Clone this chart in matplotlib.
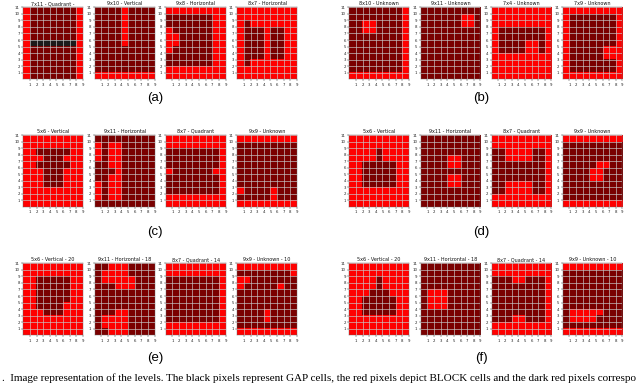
import matplotlib
matplotlib.use('Agg')
import matplotlib.pyplot as plt
import numpy as np
from matplotlib.colors import ListedColormap

# ---- data: level grids (top row first). B = GAP (black), R = BLOCK (red), D = dark red
x_ticks = [1, 2, 3, 4, 5, 6, 7, 8, 9]
y_ticks = [1, 2, 3, 4, 5, 6, 7, 8, 9, 10, 11]

titles_a = ["7x11 - Quadrant -", "9x10 - Vertical", "9x8 - Horizontal", "8x7 - Horizontal"]
titles_b = ["8x10 - Unknown", "9x11 - Unknown", "7x4 - Unknown", "7x9 - Unknown"]
titles_c = ["5x6 - Vertical", "9x11 - Horizontal", "8x7 - Quadrant", "9x9 - Unknown"]
titles_d = ["5x6 - Vertical", "9x11 - Horizontal", "8x7 - Quadrant", "9x9 - Unknown"]
titles_e = ["5x6 - Vertical - 20", "9x11 - Horizontal - 18", "8x7 - Quadrant - 14", "9x9 - Unknown - 10"]
titles_f = ["5x6 - Vertical - 20", "9x11 - Horizontal - 18", "8x7 - Quadrant - 14", "9x9 - Unknown - 10"]
panel_labels = ["(a)", "(b)", "(c)", "(d)", "(e)", "(f)"]

grid_a1 = ["RDDDDDDDR", "RDDDDDDDR", "RDDDDDDDR", "RDDDDDDDR", "RDDDDDDDR", "RBBBBBBBR",
           "RDDDDDDDR", "RDDDDDDDR", "RDDDDDDDR", "RDDDDDDDR", "RDDDDDDDR"]
grid_a2 = ["DDDDRDDDD", "DDDDRDDDD", "DDDDRDDDD", "DDDDRDDDD", "DDDDRDDDD", "DDDDRDDDD",
           "DDDDDDDDD", "DDDDDDDDD", "DDDDDDDDD", "DDDDDDDDD", "RRRRRRRRR"]
grid_a3 = ["RRRRRRRRR", "DDDDDDDRR", "DDDDDDDRR", "RDDDDDDRR", "RRDDDDDRR", "RRDDDDDRR",
           "RDDDDDDRR", "DDDDDDDRR", "DDDDDDDRR", "RRRRRRRRR", "RRRRRRRRR"]
grid_a4 = ["RRRRRRRRR", "RRRRRRRRR", "RDRRRRRRR", "RDDDRDDRR", "RDDDRDDRR", "RDDDRDDRR",
           "RDDDRDDRR", "RDDDRDDRR", "RDRRRRRRR", "RRRRRRRRR", "RRRRRRRRR"]

grid_b1 = ["DDDDDDDDR", "DDDDDDDDR", "DDRRDDDDR", "DDRRDDDDR", "DDDDDDDDR", "DDDDDDDDR",
           "DDDDDDDDR", "DDDDDDDDR", "DDDDDDDDR", "DDDDDDDDR", "RRRRRRRRR"]
grid_b2 = ["DDDDDDDDD", "DDDDDDRRD", "DDDDDDRRD", "DDDDDDDDD", "DDDDDDDDD", "DDDDDDDDD",
           "DDDDDDDDD", "DDDDDDDDD", "DDDDDDDDD", "DDDDDDDDD", "DDDDDDDDD"]
grid_b3 = ["RRRRRRRRR", "RRRRRRRRR", "RRRRRRRRR", "RDDDDDDDR", "RDDDDDDDR", "RDDDDRRDR",
           "RDDDDRRDR", "RRRRRRRRR", "RRRRRRRRR", "RRRRRRRRR", "RRRRRRRRR"]
grid_b4 = ["RRRRRRRRR", "RDDDDDDDR", "RDDDDDDDR", "RDDDDDDDR", "RDDDDDDDR", "RDDDDDDDR",
           "RDDDDDRRR", "RDDDDDRRR", "RDDDDDDDR", "RDDDDDDDR", "RRRRRRRRR"]

grid_c1 = ["RRRRRRRRR", "RRRRRRRRR", "RRDDDDDRR", "RRRDDDRRR", "RRDDDDDRR", "RRRDDDRRR",
           "RRRDDDRRR", "RRRDDDRRR", "RRRRRRRRR", "RRRRRRRRR", "RRRRRRRRR"]
grid_c2 = ["DDDDDDDDD", "RDRRDDDDD", "RDRRDDDDD", "RDRRDDDDD", "DDRRDDDDD", "DDDRDDDDD",
           "DDRRDDDDD", "RDRRDDDDD", "RDRRDDDDD", "RDRRDDDDD", "DDDDDDDDD"]
grid_c3 = ["RRRRRRRRR", "RRRRRRRRR", "DDDDDDDDR", "DDDDDDDDR", "DDDDDDDDR", "RDDDDDDRR",
           "DDDDDDDDR", "DDDDDDDDR", "DDDDDDDDR", "RRRRRRRRR", "RRRRRRRRR"]
grid_c4 = ["RRRRRRRRR", "DDDDDDDDD", "DDDDDDDDD", "DDDDDDDDD", "DDDDDDDDD", "DDDDDDDDD",
           "DDDDDDDDD", "DDDDDDDDD", "RDDDDRDDD", "DDDDDRDDD", "RRRRRRRRR"]

grid_d1 = ["RRRRRRRRR", "RRRRRRRRR", "RRRRDRRRR", "RRRRDRRRR", "RRDDDDDRR", "RRDDDDDRR",
           "RRDDDDDRR", "RRDDDDDRR", "RRRRRRRRR", "RRRRRRRRR", "RRRRRRRRR"]
grid_d2 = ["DDDDDDDDD", "DDDDDDDDD", "DDDDDDDDD", "DDDDRRDDD", "DDDDRRDDD", "DDDDDDDDD",
           "DDDDRRDDD", "DDDDRRDDD", "DDDDDDDDD", "DDDDDDDDD", "DDDDDDDDD"]
grid_d3 = ["RRRRRRRRR", "RRRRRRRRR", "DDRRRRDDR", "DDRRRRDDR", "DDDDDDDDR", "DDDDDDDDR",
           "DDDDDDDDR", "DDRRRRDDR", "DDRRRRDDR", "RRRRRRRRR", "RRRRRRRRR"]
grid_d4 = ["RRRRRRRRR", "DDDDDDDDD", "DDDDDDDDD", "DDDDDDDDD", "DDDDDRRDD", "DDDDRRDDD",
           "DDDDRRDDD", "DDDDDDDDD", "DDDDDDDDD", "DDDDDDDDD", "RRRRRRRRR"]

grid_e1 = ["RRRRRRRRR", "RRRRRRRRR", "RRDDDDDRR", "RRDDDDDRR", "RRDDDDDRR", "RRDDDDDRR",
           "RRDDDDRRR", "RRRDDDRRR", "RRRRRRRRR", "RRRRRRRRR", "RRRRRRRRR"]
grid_e2 = ["DDRRRDDDD", "DRRRRDDDD", "DRRRRRDDD", "DDDRRRDDD", "DDDDDDDDD", "DDDDDDDDD",
           "DDDDDDDDD", "DDDRRDDDD", "DRRRRDDDD", "DRRRRDDDD", "DDRRRDDDD"]
grid_e3 = ["RRRRRRRRR", "RRRRRRRRR", "DDDDDDDDR", "DDDDDDDDR", "DDDDDDDDR", "DDDDDDDDR",
           "DDDDDDDDR", "DDDDDDDDR", "DDDDDDDDR", "RRRRRRRRR", "RRRRRRRRR"]
grid_e4 = ["RRRRRRRRR", "DDDDDDDDR", "RRDDDDDDD", "RDDDDDRDD", "DDDDDDDDD", "DDDDDDDDD",
           "DDDDDDDDD", "DDDDRDDDD", "DDDDRDDDD", "DDDDDDDDD", "RRRRRRRRR"]

grid_f1 = ["RRRRRRRRR", "RRRRRRRRR", "RRRRDRRRR", "RRRRDRRRR", "RRRDDDRRR", "RRDDDDDRR",
           "RRDDDDDRR", "RRDDDDDRR", "RRRRRRRRR", "RRRRRRRRR", "RRRRRRRRR"]
grid_f2 = ["DDDDDDDDD", "DDDDDDDDD", "DDDDDDDDD", "DDDDDDDDD", "DRRRDDDDD", "DRRRDDDDD",
           "DRRRDDDDD", "DDDDDDDDD", "DDDDDDDDD", "DDDDDDDDD", "DDDDDDDDD"]
grid_f3 = ["RRRRRRRRR", "RRRRRRRRR", "DDDRRDDDR", "DDDDDDDDR", "DDDDDDDDR", "DDDDDDDDR",
           "DDDDDDDDR", "DDDDDDDDR", "DDDRRDDDR", "RRRRRRRRR", "RRRRRRRRR"]
grid_f4 = ["RRRRRRRRR", "DDDDDDDDD", "DDDDDDDDD", "DDDDDDDDD", "DDDDDDDDD", "DDDDDDDDD",
           "DDDDDDDDD", "DRRRRRDDD", "DRRRRDDDD", "DDDDDDDDD", "RRRRRRRRR"]

caption = (".  Image representation of the levels. The black pixels represent GAP cells, "
           "the red pixels depict BLOCK cells and the dark red pixels correspo")

groups = [
    (titles_a, [grid_a1, grid_a2, grid_a3, grid_a4]),
    (titles_b, [grid_b1, grid_b2, grid_b3, grid_b4]),
    (titles_c, [grid_c1, grid_c2, grid_c3, grid_c4]),
    (titles_d, [grid_d1, grid_d2, grid_d3, grid_d4]),
    (titles_e, [grid_e1, grid_e2, grid_e3, grid_e4]),
    (titles_f, [grid_f1, grid_f2, grid_f3, grid_f4]),
]

CODE = {'B': 0, 'R': 1, 'D': 2}
cmap = ListedColormap(['#1b1b1b', '#ff0000', '#7a0000'])

W, H = 640, 383
fig = plt.figure(figsize=(W / 100, H / 100), dpi=100)
fig.patch.set_facecolor('white')

col_left = [[23.3, 94.8, 165.8, 237.3], [349.3, 420.7, 491.7, 562.7]]
row_top = [7.3, 135.0, 263.3]
aw, ah = 59.7, 72.0
label_y = [98, 232, 358]
label_x = [155, 481]

for gi, (titles, grids) in enumerate(groups):
    r, c = gi // 2, gi % 2
    for k in range(4):
        x0 = col_left[c][k]
        y0 = row_top[r]
        ax = fig.add_axes([x0 / W, 1 - (y0 + ah) / H, aw / W, ah / H])
        arr = np.array([[CODE[ch] for ch in row] for row in grids[k]])
        ax.imshow(arr, cmap=cmap, vmin=-0.5, vmax=2.5, extent=[0, 9, 0, 11],
                  origin='upper', aspect='auto', interpolation='nearest')
        ax.set_xlim(0, 9)
        ax.set_ylim(0, 11)
        ax.set_xticks(x_ticks)
        ax.set_yticks(y_ticks)
        ax.set_xticklabels([str(v) for v in x_ticks])
        ax.set_yticklabels([str(v) for v in y_ticks])
        ax.tick_params(labelsize=2.8, length=1.2, width=0.3, pad=1.2, colors='#222222')
        ax.set_axisbelow(False)
        ax.grid(True, color='#c8c8c8', linewidth=0.55, alpha=0.85)
        for sp in ax.spines.values():
            sp.set_linewidth(0.3)
            sp.set_color('#666666')
        ax.set_title(titles[k], fontsize=3.5, pad=1.6, color='#111111')
    fig.text(label_x[c] / W, 1 - label_y[r] / H, panel_labels[gi], ha='center', va='center',
             fontsize=9.5, family='Liberation Sans')

fig.text(0.003, 1 - 378 / H, caption, ha='left', va='center', fontsize=8,
         family='Liberation Serif')

fig.savefig('out.png', dpi=100, facecolor='white')
